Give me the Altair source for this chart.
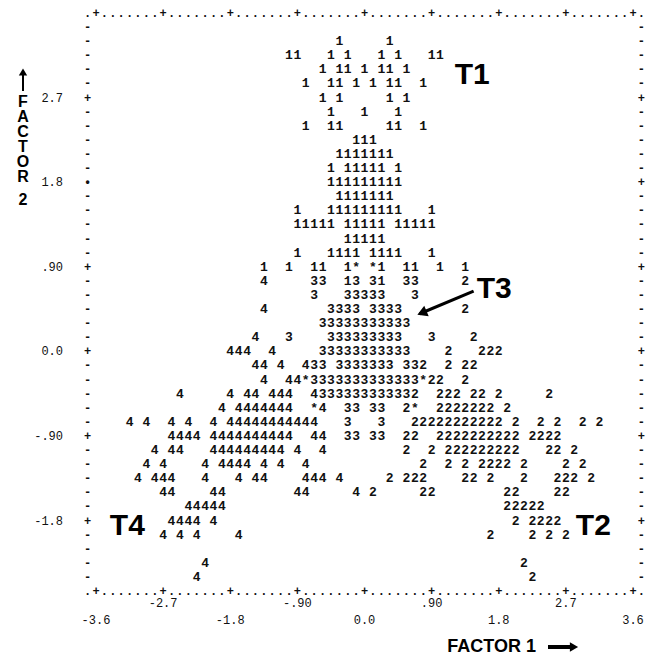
import altair as alt
import pandas as pd

# ---- printer grid ----------------------------------------------------------
COL_STEP = 0.1125      # factor-1 units per printer column (8 columns per 0.9)
ROW_STEP = 0.15        # factor-2 units per printer line (6 lines per 0.9)
X_MIN, X_MAX = -3.6, 3.6
Y_TOP, Y_BOTTOM = 3.6, -2.55
N_COLS = 64            # printer columns from -3.6 to 3.6
N_LINES = 41           # printer lines from top border to bottom border

# printer lines: line number -> "startcolumn:characters" runs
PLOT_LINES = {
    2: "29:1 35:1",
    3: "23:11 28:1 30:1 34:1 36:1 40:11",
    4: "27:1 29:11 32:1 34:11 37:1",
    5: "25:1 28:11 31:1 33:1 35:11 39:1",
    6: "27:1 29:1 35:1 37:1",
    7: "28:1 32:1 36:1",
    8: "25:1 28:11 35:11 39:1",
    9: "31:111",
    10: "29:1111111",
    11: "28:1 30:11111 36:1",
    12: "28:111111111",
    13: "29:1111111",
    14: "24:1 28:111111111 40:1",
    15: "24:11111 30:11111 36:11111",
    16: "30:11111",
    17: "24:1 28:1111 33:1111 40:1",
    18: "20:1 23:1 26:11 30:1* 33:*1 37:11 41:1 44:1",
    19: "20:4 26:33 30:13 33:31 37:33 44:2",
    20: "26:3 30:33333 38:3",
    21: "20:4 28:3333 33:3333 44:2",
    22: "27:33333333333",
    23: "19:4 23:3 28:333333333 40:3 45:2",
    24: "16:444 21:4 27:33333333333 42:2 46:222",
    25: "19:44 22:4 25:433 29:3333333 37:332 42:2 44:22",
    26: "20:4 23:44*3333333333333*22 44:2",
    27: "10:4 16:4 18:44 21:444 26:4333333333332 41:222 45:22 48:2 54:2",
    28: "15:4 17:4444444 26:*4 30:33 33:33 37:2* 41:2222222 49:2",
    29: "4:4 6:4 9:4 11:4 14:4 16:44444444444 30:3 34:3 38:22222222222 50:2 53:2 55:2 58:2 60:2",
    30: "9:4444 14:4444444444 26:44 30:33 33:33 37:22 41:2222222222 52:2222",
    31: "7:4 9:44 14:444444444 24:4 27:4 37:2 40:2 42:222222222 54:22 57:2",
    32: "6:4 8:4 13:4 15:4444 20:4 22:4 25:4 39:2 42:2 44:2 46:2222 51:2 56:2 58:2",
    33: "5:4 7:444 13:4 17:4 19:44 25:444 29:4 35:2 37:222 44:22 47:2 51:2 55:222 59:2",
    34: "8:44 14:44 24:44 31:4 33:2 39:22 49:22 55:22",
    35: "11:44444 49:22222",
    36: "9:4444 14:4 50:2 52:2222",
    37: "8:4 10:4 12:4 17:4 47:2 52:2 54:2 56:2",
    39: "13:4 51:2",
    40: "12:4 52:2",
}

Y_TICKS = [2.7, 1.8, 0.9, 0.0, -0.9, -1.8]
Y_LABELS = ["2.7", "1.8", ".90", "0.0", "-.90", "-1.8"]
X_TICKS_LOW = [-3.6, -1.8, 0.0, 1.8, 3.6]
X_LABELS_LOW = ["-3.6", "-1.8", "0.0", "1.8", "3.6"]
X_TICKS_HIGH = [-2.7, -0.9, 0.9, 2.7]
X_LABELS_HIGH = ["-2.7", "-.90", ".90", "2.7"]

GROUP_NAMES = ["T1", "T3", "T2", "T4"]
GROUP_F1 = [1.445, 1.74, 3.068, -3.18]
GROUP_F2 = [2.935, 0.66, -1.863, -1.863]

# ---- build tables ----------------------------------------------------------
def col_x(k):
    return X_MIN + COL_STEP * k

def line_y(r):
    return Y_TOP - ROW_STEP * r

recs = []
for r, spec in PLOT_LINES.items():
    for run in spec.split():
        k0, s = run.split(":")
        for i, ch in enumerate(s):
            recs.append({"f1": col_x(int(k0) + i), "f2": line_y(r), "ch": ch})
points = pd.DataFrame(recs)

brd = []
for k in range(-1, N_COLS + 2):
    ch = "+" if (0 <= k <= N_COLS and k % 8 == 0) else "."
    for r in (0, N_LINES):
        brd.append({"f1": col_x(k), "f2": line_y(r), "ch": ch})
for r in range(1, N_LINES):
    ch = "+" if r % 6 == 0 else "-"
    brd.append({"f1": col_x(-1), "f2": line_y(r), "ch": "\u2022" if r == 12 else ch})
    brd.append({"f1": col_x(N_COLS + 1), "f2": line_y(r), "ch": ch})
border = pd.DataFrame(brd)

xs = alt.Scale(domain=[X_MIN, X_MAX], nice=False, zero=False)
ys = alt.Scale(domain=[Y_BOTTOM, Y_TOP], nice=False, zero=False)
XE = alt.X("f1:Q", scale=xs, axis=None)
YE = alt.Y("f2:Q", scale=ys, axis=None)

MONO = "Liberation Mono"
INK = "#111111"

pts = alt.Chart(points).mark_text(
    font=MONO, fontSize=13, fontWeight="bold", color=INK, align="center", baseline="middle"
).encode(x=XE, y=YE, text="ch:N")

frame = alt.Chart(border).mark_text(
    font=MONO, fontSize=12, fontWeight="bold", color=INK, align="center", baseline="middle"
).encode(x=XE, y=YE, text="ch:N")

ylab = alt.Chart(pd.DataFrame({"f2": Y_TICKS, "lab": Y_LABELS})).mark_text(
    font=MONO, fontSize=12, color=INK, align="right", baseline="middle"
).encode(x=alt.value(-33), y=YE, text="lab:N")

xlab_low = alt.Chart(pd.DataFrame({"f1": X_TICKS_LOW, "lab": X_LABELS_LOW})).mark_text(
    font=MONO, fontSize=12, color=INK, align="center", baseline="middle"
).encode(x=XE, y=alt.value(607), text="lab:N")

xlab_high = alt.Chart(pd.DataFrame({"f1": X_TICKS_HIGH, "lab": X_LABELS_HIGH})).mark_text(
    font=MONO, fontSize=12, color=INK, align="center", baseline="middle"
).encode(x=XE, y=alt.value(590), text="lab:N")

groups = alt.Chart(pd.DataFrame({"f1": GROUP_F1, "f2": GROUP_F2, "g": GROUP_NAMES})).mark_text(
    font="Liberation Sans", fontSize=30, fontWeight="bold", color="#000000",
    align="center", baseline="middle"
).encode(x=XE, y=YE, text="g:N")

# arrow pointing from the T3 label into cluster 3
arrow_df = pd.DataFrame({"f1": [1.463], "f2": [0.64], "f1b": [0.74], "f2b": [0.40]})
t3_shaft = alt.Chart(arrow_df).mark_rule(strokeWidth=3, color="#000000").encode(
    x=XE, y=YE, x2="f1b:Q", y2="f2b:Q")
head_df = pd.DataFrame({"f1": [0.77], "f2": [0.41]})
t3_head = alt.Chart(head_df).mark_point(
    shape="triangle-right", filled=True, size=130, angle=157, color="#000000", opacity=1
).encode(x=XE, y=YE)

one = pd.DataFrame({"a": [0]})
f1_title = alt.Chart(one).mark_text(
    font="Liberation Sans", fontSize=18, fontWeight="bold", color="#000000",
    align="right", baseline="middle"
).encode(x=alt.value(440), y=alt.value(634), text=alt.value("FACTOR 1"))
f1_shaft = alt.Chart(one).mark_rule(strokeWidth=4, color="#000000").encode(
    x=alt.value(452), x2=alt.value(474), y=alt.value(634))
f1_head = alt.Chart(one).mark_point(
    shape="triangle-right", filled=True, size=90, color="#000000", opacity=1
).encode(x=alt.value(478), y=alt.value(634))

F2_LETTERS = ["F", "A", "C", "T", "O", "R", "2"]
F2_PIX = [89, 104, 119, 134, 149, 164, 187]
f2_title = alt.Chart(pd.DataFrame({"c": F2_LETTERS, "py": F2_PIX})).mark_text(
    font="Liberation Sans", fontSize=16, fontWeight="bold", color="#000000",
    align="center", baseline="middle"
).encode(x=alt.value(-73), y=alt.Y("py:Q", scale=None), text="c:N")
f2_shaft = alt.Chart(one).mark_rule(strokeWidth=2, color="#000000").encode(
    x=alt.value(-73), y=alt.value(60), y2=alt.value(78))
f2_head = alt.Chart(one).mark_point(
    shape="triangle-up", filled=True, size=70, color="#000000", opacity=1
).encode(x=alt.value(-73), y=alt.value(59))

chart = alt.layer(
    frame, pts, ylab, xlab_low, xlab_high, groups, t3_shaft, t3_head,
    f1_title, f1_shaft, f1_head, f2_title, f2_shaft, f2_head
).properties(
    width=537, height=578,
    padding={"left": 96, "top": 13, "right": 13, "bottom": 64},
    autosize=alt.AutoSizeParams(type="none"),
    background="white",
).configure_view(stroke=None)

chart.save("out.html", embed_options={"renderer": "svg", "actions": False})
